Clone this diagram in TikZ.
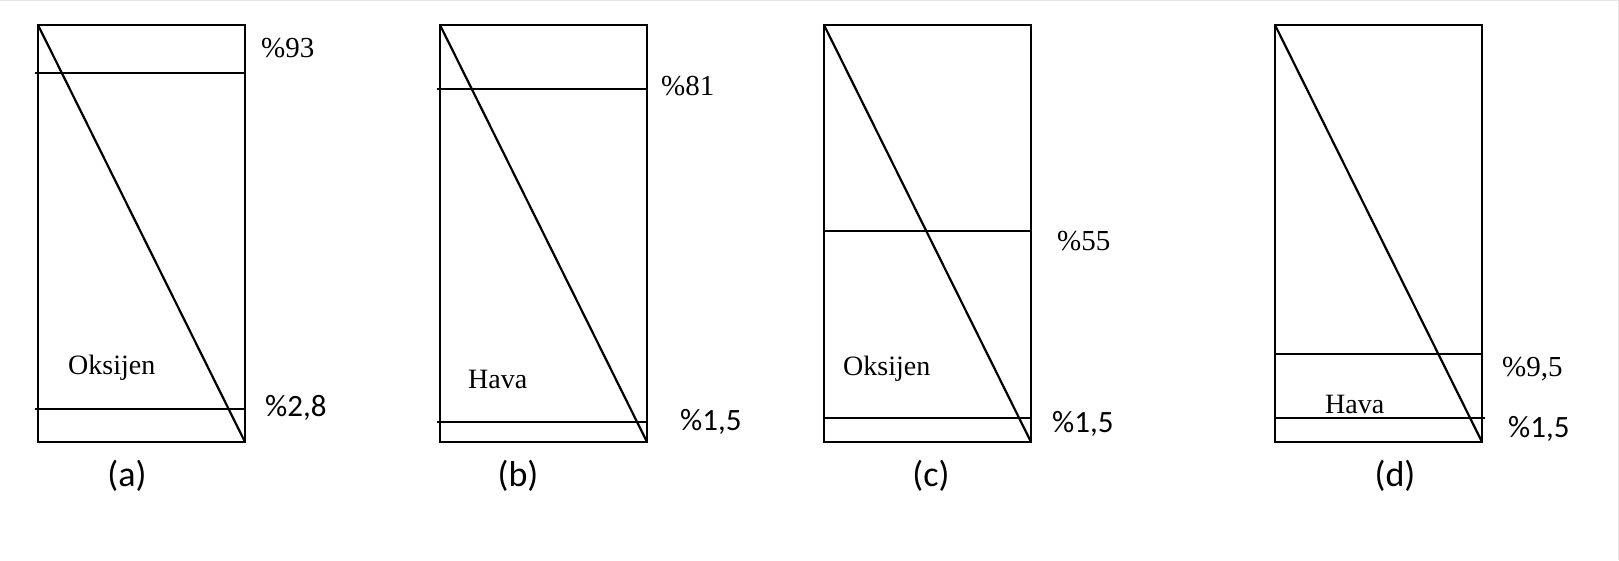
\documentclass[tikz,border=0pt]{standalone}
\usepackage{fontspec}
\setmainfont{Liberation Serif}
\newfontfamily\calfont{Carlito}
\begin{document}
\begin{tikzpicture}[x=1pt,y=-1pt,
  frame/.style={line width=2.2pt, line join=miter},
  ln/.style={line width=2.2pt},
  pct/.style={anchor=west, inner sep=0pt, font=\fontsize{29}{32}\selectfont},
  pcts/.style={anchor=west, inner sep=0pt, font=\calfont\fontsize{31}{34}\selectfont},
  word/.style={anchor=west, inner sep=0pt, font=\fontsize{28}{31}\selectfont},
  sublabel/.style={inner sep=0pt, font=\calfont\fontsize{36}{40}\selectfont}]
\useasboundingbox (0,0) rectangle (1619,560);
\draw[gray!20, line width=1pt] (0,0.5) -- (1618.5,0.5) -- (1618.5,560);
% (a)
\coordinate (a1) at (38,25); \coordinate (a2) at (245,442);
\draw[frame] (a1) rectangle (a2);
\draw[ln] (a1) -- (a2);
\coordinate (aL1) at (35,73); \coordinate (aR1) at (245,73);
\coordinate (aL2) at (35,409); \coordinate (aR2) at (245,409);
\draw[ln] (aL1) -- (aR1); \draw[ln] (aL2) -- (aR2);
\node[pct] (a93) at (261,48) {\%93};
\node[pcts] (a28) at (265,408) {\%2,8};
\node[word] (aox) at (68,368) {Oksijen};
\node[sublabel] (acap) at (127,476) {(a)};
% (b)
\coordinate (b1) at (440,25); \coordinate (b2) at (647,442);
\draw[frame] (b1) rectangle (b2);
\draw[ln] (b1) -- (b2);
\coordinate (bL1) at (437,89); \coordinate (bR1) at (647,89);
\coordinate (bL2) at (437,422); \coordinate (bR2) at (647,422);
\draw[ln] (bL1) -- (bR1); \draw[ln] (bL2) -- (bR2);
\node[pct] (b81) at (661,86) {\%81};
\node[pcts] (b15) at (680,422) {\%1,5};
\node[word] (bhv) at (468,379) {Hava};
\node[sublabel] (bcap) at (518,476) {(b)};
% (c)
\coordinate (c1) at (824,25); \coordinate (c2) at (1031,442);
\draw[frame] (c1) rectangle (c2);
\draw[ln] (c1) -- (c2);
\coordinate (cL1) at (824,231); \coordinate (cR1) at (1031,231);
\coordinate (cL2) at (824,418); \coordinate (cR2) at (1031,418);
\draw[ln] (cL1) -- (cR1); \draw[ln] (cL2) -- (cR2);
\node[pct] (c55) at (1057,241) {\%55};
\node[pcts] (c15) at (1052,424) {\%1,5};
\node[word] (cox) at (843,369) {Oksijen};
\node[sublabel] (ccap) at (931,476) {(c)};
% (d)
\coordinate (d1) at (1275,25); \coordinate (d2) at (1482,442);
\draw[frame] (d1) rectangle (d2);
\draw[ln] (d1) -- (d2);
\coordinate (dL1) at (1275,354); \coordinate (dR1) at (1482,354);
\coordinate (dL2) at (1275,418); \coordinate (dR2) at (1485,418);
\draw[ln] (dL1) -- (dR1); \draw[ln] (dL2) -- (dR2);
\node[pct] (d95) at (1502,369) {\%9,5};
\node[pcts] (d15) at (1508,429) {\%1,5};
\node[word] (dhv) at (1325,404) {Hava};
\node[sublabel] (dcap) at (1395,476) {(d)};
\end{tikzpicture}
\end{document}
